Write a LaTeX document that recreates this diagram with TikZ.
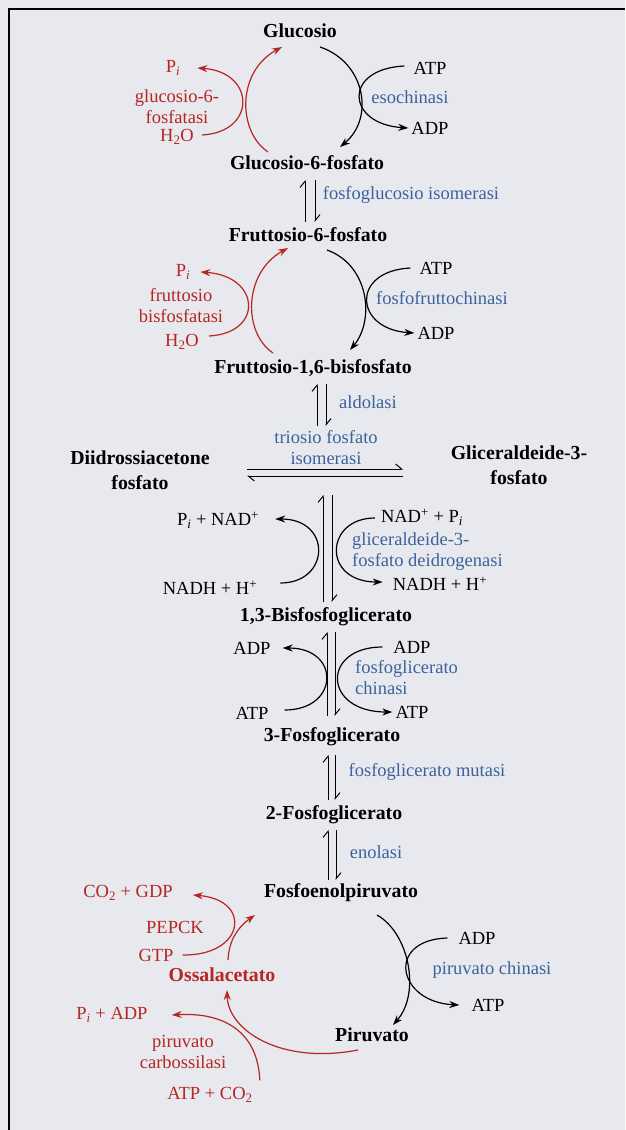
\documentclass[tikz,border=0pt]{standalone}
\usepackage{fontspec}
\setmainfont{Liberation Serif}
\usetikzlibrary{arrows.meta}
\definecolor{pathred}{RGB}{183,38,33}
\definecolor{enzblue}{RGB}{60,98,155}
\definecolor{paper}{RGB}{231,233,239}
\newcommand{\diagfont}{\fontsize{18.5}{21}\selectfont}
\newcommand{\cmpdfont}{\fontsize{19.8}{25}\selectfont\bfseries}
\newcommand{\pinorg}{P\textsubscript{\itshape i}}
\newcommand{\water}{H\textsubscript{2}O}
\newcommand{\carbdiox}{CO\textsubscript{2}}
\newcommand{\nadox}{NAD\textsuperscript{+}}
\newcommand{\hplus}{H\textsuperscript{+}}
\tikzset{
  compound/.style={font=\cmpdfont, inner sep=0pt, align=center, text=black},
  redcompound/.style={compound, text=pathred},
  enzyme/.style={font=\diagfont, inner sep=0pt, align=center, text=enzblue},
  redenzyme/.style={enzyme, text=pathred},
  cofactor/.style={font=\diagfont, inner sep=3pt, text=black},
  redcofactor/.style={cofactor, text=pathred},
  arrow/.style={-{Stealth[length=10pt, width=7pt]}, line width=1.2pt, black},
  redarrow/.style={arrow, draw=pathred},
  eqarrow/.style={-{Straight Barb[left, length=6pt, width=10pt]}, line width=1pt, black}
}
\begin{document}
\begin{tikzpicture}[x=1pt, y=-1pt]

  % Paper and frame
  \fill[paper] (0,0) rectangle (625,1130);
  \useasboundingbox (0,0) rectangle (625,1130);
  \draw[line width=1.8pt] (9,1130) -- (9,9) -- (625,9);

  % Compounds
  \node[compound] (glc) at (300,31) {Glucosio};
  \node[compound] (g6p) at (307,163) {Glucosio-6-fosfato};
  \node[compound] (f6p) at (308,235) {Fruttosio-6-fosfato};
  \node[compound] (fbp) at (313,368) {Fruttosio-1,6-bisfosfato};
  \node[compound] (dhap) at (140,470) {Diidrossiacetone\\fosfato};
  \node[compound] (gap) at (519,465) {Gliceraldeide-3-\\fosfato};
  \node[compound] (bpg) at (326,617) {1,3-Bisfosfoglicerato};
  \node[compound] (pg3) at (332,737) {3-Fosfoglicerato};
  \node[compound] (pg2) at (334,815) {2-Fosfoglicerato};
  \node[compound] (pep) at (341,893) {Fosfoenolpiruvato};
  \node[compound] (pyr) at (372,1035) {Piruvato};
  \node[redcompound] (oaa) at (222,975) {Ossalacetato};
  \coordinate (tri) at (325,472);

  % Enzymes
  \node[enzyme] (hk) at (410,97) {esochinasi};
  \node[enzyme] (pgi) at (411,195) {fosfoglucosio isomerasi};
  \node[enzyme] (pfk) at (442,298) {fosfofruttochinasi};
  \node[enzyme] (ald) at (368,402) {aldolasi};
  \node[enzyme] (tpi) at (326,448) {triosio fosfato\\isomerasi};
  \node[enzyme, anchor=west, align=left] (gapdh) at (352,552) {gliceraldeide-3-\\fosfato deidrogenasi};
  \node[enzyme, anchor=west, align=left] (pgk) at (355,678) {fosfoglicerato\\chinasi};
  \node[enzyme] (pgm) at (427,772) {fosfoglicerato mutasi};
  \node[enzyme] (eno) at (376,852) {enolasi};
  \node[enzyme] (pk) at (492,970) {piruvato chinasi};
  \node[redenzyme] (gsixpase) at (177,107) {glucosio-6-\\fosfatasi};
  \node[redenzyme] (fbpase) at (181,306) {fruttosio\\bisfosfatasi};
  \node[redenzyme] (pepck) at (175,927) {PEPCK};
  \node[redenzyme] (pc) at (183,1052) {piruvato\\carbossilasi};

  % Cofactors
  \node[cofactor] (atpA) at (430,68) {ATP};
  \node[cofactor] (adpA) at (430,128) {ADP};
  \node[redcofactor] (piA) at (173,68) {\pinorg};
  \node[redcofactor] (wA) at (177,137) {\water};
  \node[cofactor] (atpB) at (436,268) {ATP};
  \node[cofactor] (adpB) at (436,333) {ADP};
  \node[redcofactor] (piB) at (183,272) {\pinorg};
  \node[redcofactor] (wB) at (182,342) {\water};
  \node[cofactor] (pinadL) at (218,520) {\pinorg{} + \nadox};
  \node[cofactor] (nadhL) at (210,588) {NADH + \hplus};
  \node[cofactor] (nadpiR) at (422,517) {\nadox{} + \pinorg};
  \node[cofactor] (nadhR) at (440,584) {NADH + \hplus};
  \node[cofactor] (adpL) at (252,648) {ADP};
  \node[cofactor] (atpL) at (252,713) {ATP};
  \node[cofactor] (adpR) at (412,647) {ADP};
  \node[cofactor] (atpR) at (412,712) {ATP};
  \node[cofactor] (adpP) at (477,938) {ADP};
  \node[cofactor] (atpP) at (488,1005) {ATP};
  \node[redcofactor] (co2gdp) at (128,893) {\carbdiox{} + GDP};
  \node[redcofactor] (gtp) at (156,955) {GTP};
  \node[redcofactor] (piadp) at (112,1015) {\pinorg{} + ADP};
  \node[redcofactor] (atpco) at (210,1095) {ATP + \carbdiox};

  % Glycolysis steps with cofactors
  \draw[arrow] ([shift={(20,16)}]glc.center) .. controls +(45,15) and +(35,-29) .. ([shift={(33,-16)}]g6p.center);
  \draw[arrow] ([shift={(-6,-2)}]atpA.west) .. controls +(-62,3) and +(-62,-4) .. (adpA.west);
  \draw[arrow] ([shift={(19,15)}]f6p.center) .. controls +(42,15) and +(25,-30) .. ([shift={(37,-18)}]fbp.center);
  \draw[arrow] ([shift={(-6,0)}]atpB.west) .. controls +(-60,3) and +(-60,-4) .. (adpB.west);
  \draw[arrow] ([shift={(20,-5)}]nadhL.east) .. controls +(50,0) and +(57,0) .. ([shift={(13,-1)}]pinadL.east);
  \draw[arrow] ([shift={(-3,1)}]nadpiR.west) .. controls +(-50,0) and +(-61,0) .. ([shift={(-7,-2)}]nadhR.west);
  \draw[arrow] ([shift={(13,-3)}]atpL.east) .. controls +(55,0) and +(58,0) .. ([shift={(9,0)}]adpL.east);
  \draw[arrow] ([shift={(-8,0)}]adpR.west) .. controls +(-61,0) and +(-70,0) .. (atpR.west);
  \draw[arrow] ([shift={(36,22)}]pep.center) .. controls +(32,18) and +(28,-32) .. ([shift={(21,-10)}]pyr.center);
  \draw[arrow] ([shift={(-8,0)}]adpP.west) .. controls +(-62,2) and +(-62,-3) .. ([shift={(-9,0)}]atpP.west);

  % Equilibria
  \draw[eqarrow] ([shift={(-3,-13)}]f6p.center) -- ([shift={(-2,17)}]g6p.center);
  \draw[eqarrow] ([shift={(8,17)}]g6p.center) -- ([shift={(7,-13)}]f6p.center);
  \draw[eqarrow] ([shift={(-8,-46)}]tri) -- ([shift={(4,16)}]fbp.center);
  \draw[eqarrow] ([shift={(13,16)}]fbp.center) -- ([shift={(1,-46)}]tri);
  \draw[eqarrow] ([shift={(107,-1)}]dhap.center) -- ([shift={(-116,4)}]gap.center);
  \draw[eqarrow] ([shift={(-116,11)}]gap.center) -- ([shift={(107,6)}]dhap.center);
  \draw[eqarrow] ([shift={(-3,-15)}]bpg.center) -- ([shift={(-2,23)}]tri);
  \draw[eqarrow] ([shift={(7,23)}]tri) -- ([shift={(6,-15)}]bpg.center);
  \draw[eqarrow] ([shift={(-5,-21)}]pg3.center) -- ([shift={(1,15)}]bpg.center);
  \draw[eqarrow] ([shift={(9,15)}]bpg.center) -- ([shift={(3,-21)}]pg3.center);
  \draw[eqarrow] ([shift={(-6,-15)}]pg2.center) -- ([shift={(-4,18)}]pg3.center);
  \draw[eqarrow] ([shift={(3,18)}]pg3.center) -- ([shift={(1,-15)}]pg2.center);
  \draw[eqarrow] ([shift={(-13,-13)}]pep.center) -- ([shift={(-6,15)}]pg2.center);
  \draw[eqarrow] ([shift={(2,15)}]pg2.center) -- ([shift={(-5,-13)}]pep.center);

  % Gluconeogenesis bypasses
  \draw[redarrow] ([shift={(-39,-11)}]g6p.center) .. controls +(-30,-20) and +(-46,25) .. ([shift={(-18,16)}]glc.center);
  \draw[redarrow] ([shift={(5,-2)}]wA.east) .. controls +(55,-3) and +(58,4) .. ([shift={(14,0)}]piA.east);
  \draw[redarrow] ([shift={(-40,-15)}]fbp.center) .. controls +(-30,-20) and +(-45,25) .. ([shift={(-20,13)}]f6p.center);
  \draw[redarrow] ([shift={(7,-6)}]wB.east) .. controls +(55,-3) and +(60,4) .. ([shift={(7,0)}]piB.east);
  \draw[redarrow] ([shift={(-14,15)}]pyr.center) .. controls +(-78,15) and +(1,40) .. ([shift={(5,15)}]oaa.center);
  \draw[redarrow] ([shift={(4,-4)}]atpco.north east) .. controls +(-2,-48) and +(53,-3) .. ([shift={(21,0)}]piadp.east);
  \draw[redarrow] ([shift={(6,-15)}]oaa.center) .. controls +(1,-20) and +(-17,12) .. ([shift={(-86,22)}]pep.center);
  \draw[redarrow] ([shift={(6,0)}]gtp.east) .. controls +(62,1) and +(60,5) .. ([shift={(17,2)}]co2gdp.east);

\end{tikzpicture}
\end{document}
